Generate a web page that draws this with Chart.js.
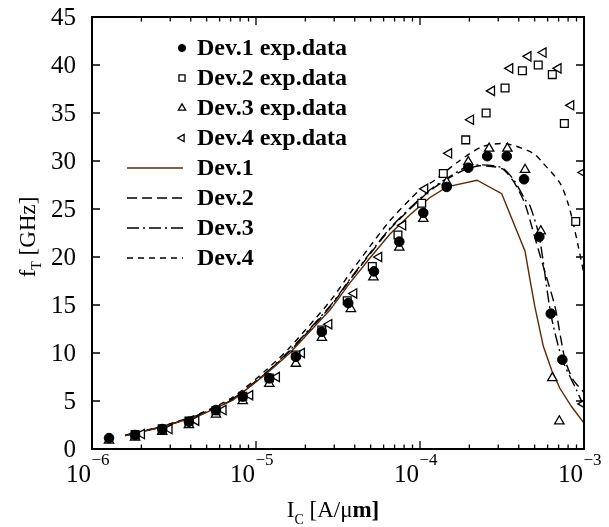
<!DOCTYPE html>
<html><head><meta charset="utf-8">
<script src="https://cdn.jsdelivr.net/npm/chart.js@4"></script>
<style>html,body{margin:0;padding:0;background:#fff}canvas{display:block}</style>
</head><body>
<canvas id="c" width="609" height="527"></canvas>
<script>
// ---- experimental data (I_C in A/um, f_T in GHz) ----
const dev1ExpI = [1.27e-6, 1.83e-6, 2.68e-6, 3.90e-6, 5.70e-6, 8.30e-6, 1.205e-5, 1.75e-5, 2.52e-5, 3.65e-5, 5.24e-5, 7.48e-5, 1.047e-4, 1.455e-4, 1.97e-4, 2.57e-4, 3.38e-4, 4.31e-4, 5.34e-4, 6.27e-4, 7.38e-4];
const dev1ExpF = [1.14, 1.46, 2.08, 2.84, 4.06, 5.45, 7.36, 9.6, 12.2, 15.2, 18.5, 21.6, 24.6, 27.3, 29.3, 30.5, 30.5, 28.1, 22.1, 14.1, 9.3];

const dev2ExpI = [1.83e-6, 2.68e-6, 3.90e-6, 5.70e-6, 8.30e-6, 1.205e-5, 1.75e-5, 2.52e-5, 3.60e-5, 5.12e-5, 7.34e-5, 1.024e-4, 1.387e-4, 1.90e-4, 2.53e-4, 3.30e-4, 4.21e-4, 5.26e-4, 6.41e-4, 7.59e-4, 8.90e-4];
const dev2ExpF = [1.5, 2.1, 2.9, 4.0, 5.5, 7.4, 9.8, 12.4, 15.45, 19.0, 22.3, 25.6, 28.7, 32.2, 35.0, 37.6, 39.4, 40.0, 39.0, 33.9, 23.7];

const dev3ExpI = [1.27e-6, 1.83e-6, 2.68e-6, 3.90e-6, 5.70e-6, 8.30e-6, 1.205e-5, 1.75e-5, 2.52e-5, 3.79e-5, 5.20e-5, 7.48e-5, 1.047e-4, 1.455e-4, 1.97e-4, 2.64e-4, 3.41e-4, 4.37e-4, 5.45e-4, 6.41e-4, 7.07e-4];
const dev3ExpF = [0.9, 1.2, 1.8, 2.5, 3.6, 5.0, 6.8, 8.9, 11.6, 14.6, 17.9, 21.0, 24.0, 27.8, 29.9, 31.3, 31.3, 29.1, 22.7, 7.4, 2.9];

const dev4ExpI = [2.01e-6, 2.96e-6, 4.31e-6, 6.32e-6, 9.19e-6, 1.337e-5, 1.90e-5, 2.79e-5, 3.96e-5, 5.62e-5, 7.87e-5, 1.072e-4, 1.50e-4, 2.04e-4, 2.74e-4, 3.54e-4, 4.57e-4, 5.65e-4, 6.97e-4, 8.33e-4, 9.9e-4, 9.9e-4];
const dev4ExpF = [1.56, 2.08, 2.95, 4.06, 5.6, 7.5, 10.0, 13.0, 16.2, 20.0, 23.3, 27.1, 30.8, 34.3, 37.3, 39.65, 40.9, 41.3, 39.65, 35.8, 28.8, 4.7];

// ---- model curves ----
const dev1ModI = [1.59e-6, 2.71e-6, 4.56e-6, 7.24e-6, 1.167e-5, 1.61e-5, 2.83e-5, 3.74e-5, 4.95e-5, 6.56e-5, 8.69e-5, 1.151e-4, 1.461e-4, 2.226e-4, 3.15e-4, 4.37e-4, 4.69e-4, 5.02e-4, 5.65e-4, 6.35e-4, 7.14e-4, 8.41e-4, 1.0e-3];
const dev1ModF = [1.4, 2.3, 3.5, 5.1, 7.9, 10.0, 14.5, 17.3, 19.9, 22.4, 24.4, 26.2, 27.3, 28.0, 26.6, 20.6, 17.6, 14.8, 10.7, 8.2, 6.3, 4.4, 2.7];

const dev2ModI = [1.59e-6, 2.71e-6, 4.56e-6, 7.24e-6, 1.167e-5, 1.61e-5, 2.83e-5, 3.74e-5, 4.95e-5, 6.56e-5, 8.69e-5, 1.151e-4, 1.461e-4, 1.88e-4, 2.32e-4, 3.16e-4, 3.74e-4, 4.37e-4, 5.02e-4, 5.65e-4, 6.66e-4, 7.66e-4, 8.60e-4, 1.0e-3];
const dev2ModF = [1.4, 2.35, 3.6, 5.2, 8.0, 10.2, 14.8, 17.6, 20.3, 22.9, 25.0, 26.9, 28.1, 29.1, 29.5, 29.2, 27.8, 25.5, 22.0, 19.0, 14.8, 9.3, 7.2, 5.9];

const dev3ModI = [1.59e-6, 2.71e-6, 4.56e-6, 7.24e-6, 1.167e-5, 1.61e-5, 2.83e-5, 3.74e-5, 4.95e-5, 6.56e-5, 8.69e-5, 1.151e-4, 1.461e-4, 1.88e-4, 2.32e-4, 3.16e-4, 3.74e-4, 4.37e-4, 4.69e-4, 5.34e-4, 6.27e-4, 7.38e-4, 9.03e-4, 1.0e-3];
const dev3ModF = [1.4, 2.35, 3.6, 5.25, 8.05, 10.3, 14.9, 17.7, 20.4, 23.0, 25.1, 27.0, 28.2, 29.3, 29.6, 29.3, 28.0, 26.0, 25.3, 22.1, 14.1, 9.3, 6.1, 4.4];

const dev4ModI = [1.59e-6, 2.71e-6, 4.56e-6, 7.24e-6, 1.167e-5, 1.61e-5, 2.83e-5, 3.74e-5, 4.95e-5, 6.56e-5, 8.69e-5, 1.0e-4, 1.23e-4, 1.70e-4, 2.40e-4, 3.36e-4, 4.91e-4, 5.65e-4, 7.14e-4, 7.99e-4, 8.60e-4, 9.23e-4, 1.0e-3];
const dev4ModF = [1.45, 2.4, 3.7, 5.4, 8.3, 10.6, 15.4, 18.3, 21.1, 23.8, 26.0, 27.0, 28.0, 29.9, 31.5, 31.8, 30.8, 29.75, 27.7, 25.6, 23.5, 21.1, 18.2];

// ---- labels / ticks ----
const expLabels = ['Dev.1 exp.data', 'Dev.2 exp.data', 'Dev.3 exp.data', 'Dev.4 exp.data'];
const modLabels = ['Dev.1', 'Dev.2', 'Dev.3', 'Dev.4'];
const xTickExponents = [-6, -5, -4, -3];
const yTickValues = [0, 5, 10, 15, 20, 25, 30, 35, 40, 45];
const xTitleMain = 'I', xTitleSub = 'C', xTitleRest = ' [A/\u03bc', xTitleBold = 'm]';
const yTitleMain = 'f', yTitleSub = 'T', yTitleRest = ' [GHz]';

const pts = (xs, ys) => xs.map((x, i) => ({x: x, y: ys[i]}));
const SERIF = '"Liberation Serif","Times New Roman",serif';

const expStyles = [
  {pointStyle: 'circle', pointRadius: 4.8, pointBackgroundColor: '#000', pointBorderColor: '#000', pointBorderWidth: 1, rotation: 0},
  {pointStyle: 'rect', pointRadius: 5.5, pointBackgroundColor: '#fff', pointBorderColor: '#000', pointBorderWidth: 1.3, rotation: 0},
  {pointStyle: 'triangle', pointRadius: 5.4, pointBackgroundColor: '#fff', pointBorderColor: '#000', pointBorderWidth: 1.3, rotation: 0},
  {pointStyle: 'triangle', pointRadius: 5.4, pointBackgroundColor: '#fff', pointBorderColor: '#000', pointBorderWidth: 1.3, rotation: -90}
];
const modStyles = [
  {borderColor: '#5a2a08', borderDash: [], tension: 0},
  {borderColor: '#000', borderDash: [10, 5], tension: 0.25},
  {borderColor: '#000', borderDash: [12, 4, 2, 4], tension: 0.25},
  {borderColor: '#000', borderDash: [6, 5], tension: 0.25}
];
const expData = [[dev1ExpI, dev1ExpF], [dev2ExpI, dev2ExpF], [dev3ExpI, dev3ExpF], [dev4ExpI, dev4ExpF]];
const modData = [[dev1ModI, dev1ModF], [dev2ModI, dev2ModF], [dev3ModI, dev3ModF], [dev4ModI, dev4ModF]];

const datasets = [];
expData.forEach((d, i) => {
  const s = expStyles[i];
  datasets.push({
    label: expLabels[i], data: pts(d[0], d[1]), showLine: false,
    pointStyle: s.pointStyle, pointRadius: s.pointRadius, pointRotation: s.rotation,
    pointBackgroundColor: s.pointBackgroundColor, pointBorderColor: s.pointBorderColor,
    pointBorderWidth: s.pointBorderWidth, pointHoverRadius: s.pointRadius
  });
});
modData.forEach((d, i) => {
  const s = modStyles[i];
  datasets.push({
    label: modLabels[i], data: pts(d[0], d[1]), showLine: true, pointRadius: 0, pointHoverRadius: 0,
    borderColor: s.borderColor, borderDash: s.borderDash, borderWidth: 1.4, tension: s.tension, fill: false
  });
});

function drawMarker(ctx, style, r, x, y) {
  ctx.save();
  ctx.lineWidth = style.pointBorderWidth;
  ctx.strokeStyle = style.pointBorderColor;
  ctx.fillStyle = style.pointBackgroundColor;
  ctx.beginPath();
  if (style.pointStyle === 'circle') {
    ctx.arc(x, y, r, 0, Math.PI * 2);
  } else if (style.pointStyle === 'rect') {
    const s = Math.SQRT1_2 * r;
    ctx.rect(x - s, y - s, 2 * s, 2 * s);
  } else {
    const rad = style.rotation * Math.PI / 180;
    for (let k = 0; k < 3; k++) {
      const a = rad + k * 2 * Math.PI / 3;
      const px = x + Math.sin(a) * r, py = y - Math.cos(a) * r;
      if (k === 0) ctx.moveTo(px, py); else ctx.lineTo(px, py);
    }
    ctx.closePath();
  }
  ctx.fill(); ctx.stroke();
  ctx.restore();
}

const framePlugin = {
  id: 'frame',
  afterDraw(chart) {
    const ctx = chart.ctx, a = chart.chartArea;
    const xs = chart.scales.x, ys = chart.scales.y;
    ctx.save();
    ctx.strokeStyle = '#000'; ctx.fillStyle = '#000';
    ctx.lineWidth = 2;
    ctx.strokeRect(a.left, a.top, a.right - a.left, a.bottom - a.top);
    ctx.lineWidth = 1.3;
    ctx.beginPath();
    xTickExponents.forEach((e, idx) => {
      const base = Math.pow(10, e);
      const px = xs.getPixelForValue(base);
      ctx.moveTo(px, a.bottom); ctx.lineTo(px, a.bottom - 8);
      ctx.moveTo(px, a.top); ctx.lineTo(px, a.top + 8);
      if (idx < xTickExponents.length - 1) {
        for (let m = 2; m <= 9; m++) {
          const q = xs.getPixelForValue(base * m);
          ctx.moveTo(q, a.bottom); ctx.lineTo(q, a.bottom - 4.5);
          ctx.moveTo(q, a.top); ctx.lineTo(q, a.top + 4.5);
        }
      }
    });
    yTickValues.forEach(v => {
      const py = ys.getPixelForValue(v);
      ctx.moveTo(a.left, py); ctx.lineTo(a.left + 8, py);
      ctx.moveTo(a.right, py); ctx.lineTo(a.right - 8, py);
    });
    ctx.stroke();

    ctx.font = '25px ' + SERIF;
    ctx.textAlign = 'right'; ctx.textBaseline = 'middle';
    yTickValues.forEach(v => {
      ctx.fillText(String(v), 76, ys.getPixelForValue(v) + 1.5);
    });
    ctx.textAlign = 'left'; ctx.textBaseline = 'alphabetic';
    xTickExponents.forEach(e => {
      const px = xs.getPixelForValue(Math.pow(10, e));
      ctx.font = '25px ' + SERIF;
      const w = ctx.measureText('10').width;
      ctx.fillText('10', px - w - 1, 482);
      ctx.font = '17px ' + SERIF;
      ctx.fillText('\u2212' + String(-e), px - 0.5, 465);
    });

    const f1 = '23px ' + SERIF, fs = '14px ' + SERIF, fb = 'bold 23px ' + SERIF;
    ctx.font = f1; const w1 = ctx.measureText(xTitleMain).width;
    ctx.font = fs; const w2 = ctx.measureText(xTitleSub).width;
    ctx.font = f1; const w3 = ctx.measureText(xTitleRest).width;
    ctx.font = fb; const w4 = ctx.measureText(xTitleBold).width;
    let tx = 333 - (w1 + w2 + w3 + w4) / 2;
    const by = 517;
    ctx.font = f1; ctx.fillText(xTitleMain, tx, by); tx += w1;
    ctx.font = fs; ctx.fillText(xTitleSub, tx, by + 7); tx += w2;
    ctx.font = f1; ctx.fillText(xTitleRest, tx, by); tx += w3;
    ctx.font = fb; ctx.fillText(xTitleBold, tx, by);

    ctx.save();
    ctx.translate(35, 237);
    ctx.rotate(-Math.PI / 2);
    ctx.font = f1; const v1 = ctx.measureText(yTitleMain).width;
    ctx.font = fs; const v2 = ctx.measureText(yTitleSub).width;
    ctx.font = f1; const v3 = ctx.measureText(yTitleRest).width;
    let ty = -(v1 + v2 + v3) / 2;
    ctx.font = f1; ctx.fillText(yTitleMain, ty, 0); ty += v1;
    ctx.font = fs; ctx.fillText(yTitleSub, ty, 6); ty += v2;
    ctx.font = f1; ctx.fillText(yTitleRest, ty, 0);
    ctx.restore();

    const rowY0 = 48, rowStep = 30.0;
    ctx.font = 'bold 24px ' + SERIF;
    ctx.textBaseline = 'middle'; ctx.textAlign = 'left';
    const legR = [3.6, 4.3, 4.2, 4.2];
    expLabels.forEach((lab, i) => {
      const y = rowY0 + i * rowStep;
      drawMarker(ctx, expStyles[i], legR[i], 182, y);
      ctx.fillStyle = '#000';
      ctx.fillText(lab, 197, y + 1);
    });
    modLabels.forEach((lab, i) => {
      const y = rowY0 + (i + 4) * rowStep;
      const ds = chart.data.datasets[i + 4];
      ctx.save();
      ctx.strokeStyle = ds.borderColor; ctx.lineWidth = 1.4;
      ctx.setLineDash(ds.borderDash || []);
      ctx.beginPath(); ctx.moveTo(127, y); ctx.lineTo(183, y); ctx.stroke();
      ctx.restore();
      ctx.fillStyle = '#000';
      ctx.fillText(lab, 197, y + 1);
    });
    ctx.restore();
  }
};

new Chart(document.getElementById('c').getContext('2d'), {
  type: 'scatter',
  data: {datasets: datasets},
  options: {
    responsive: false, animation: false, devicePixelRatio: 1,
    layout: {padding: {left: 92, right: 25, top: 17, bottom: 78}},
    plugins: {legend: {display: false}, tooltip: {enabled: false}},
    events: [],
    scales: {
      x: {type: 'logarithmic', min: 1e-6, max: 1e-3, display: false},
      y: {type: 'linear', min: 0, max: 45, display: false}
    }
  },
  plugins: [framePlugin]
});
</script>
</body></html>
